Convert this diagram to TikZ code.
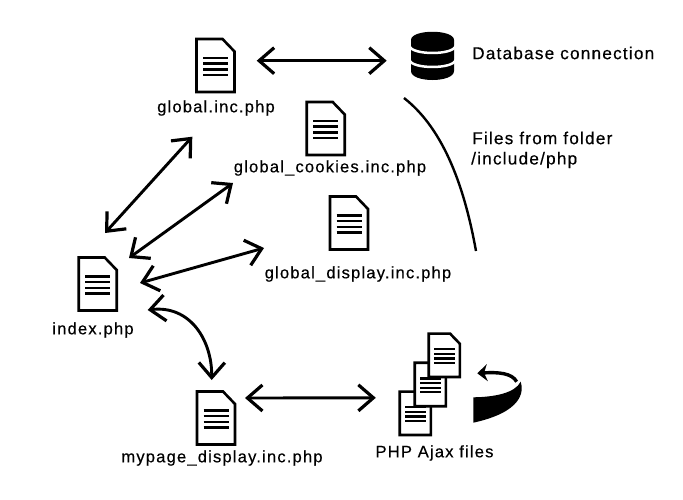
\documentclass[tikz,border=0pt]{standalone}
\usepackage{fontspec}
\setmainfont{Liberation Sans}[LetterSpace=7,FakeBold=0.4]
\usetikzlibrary{arrows.meta}

\begin{document}
\begin{tikzpicture}[x=1pt,y=-1pt,
        docicon/.style={minimum width=40pt,minimum height=55pt,inner sep=0pt,outer sep=0pt},
        ajaxicon/.style={minimum width=33pt,minimum height=45pt,inner sep=0pt,outer sep=0pt},
        dbicon/.style={minimum width=43pt,minimum height=48pt,inner sep=0pt,outer sep=0pt},
        label/.style={font=\fontsize{16.6}{20}\selectfont,inner sep=0pt},
        biglabel/.style={font=\fontsize{17.2}{20}\selectfont,inner sep=0pt,anchor=west},
        link/.style={line width=2.9pt,{Straight Barb[length=15pt,width=26pt,line width=3.2pt]}-{Straight Barb[length=15pt,width=26pt,line width=3.2pt]}}]
    \useasboundingbox (0,0) rectangle (683,499);

    \node[docicon] (global) at (215.5,65.5) {};
    \node[docicon] (cookies) at (325.7,128.5) {};
    \node[docicon] (display) at (349,223) {};
    \node[docicon] (index) at (97.7,284) {};
    \node[docicon] (mypage) at (216,418) {};
    \node[ajaxicon] (ajaxa) at (415.3,413.3) {};
    \node[ajaxicon] (ajaxb) at (430.3,384.5) {};
    \node[ajaxicon] (ajaxc) at (444.3,355.3) {};
    \node[dbicon] (db) at (432.5,56) {};

    \foreach \n/\s in {global/1,cookies/1,display/1,index/1,mypage/1,ajaxa/0.82,ajaxb/0.82,ajaxc/0.82}{
        \begin{scope}[shift={(\n.center)},scale=\s]
            \draw[line width=2.6pt,fill=white] (-19,-26.5) -- (7,-26.5) -- (19,-14) -- (19,26.5) -- (-19,26.5) -- cycle;
            \foreach \y in {-7.5,-2,4,9.5}
                \draw[line width=2.3pt] (-12.5,\y) -- (12.5,\y);
        \end{scope}
    }

    \begin{scope}[shift={(db.center)}]
        \fill (-21.5,-16) .. controls (-21.5,-27) and (21.5,-27) .. (21.5,-16) -- (21.5,15)
            .. controls (21.5,27) and (-21.5,27) .. (-21.5,15) -- cycle;
        \draw[white,line width=2.5pt] (-23,-10) .. controls (-21,-0.7) and (21,-0.7) .. (23,-10);
        \draw[white,line width=2.5pt] (-23,4) .. controls (-21,13.3) and (21,13.3) .. (23,4);
    \end{scope}

    \node[label] (globaltext) at (216,108) {global.inc.php};
    \node[label] (cookiestext) at (330,168) {global\_cookies.inc.php};
    \node[label] (displaytext) at (358,274) {global\_display.inc.php};
    \node[label] (indextext) at (93,330) {index.php};
    \node[label] (mypagetext) at (222,458) {mypage\_display.inc.php};
    \node[label] (ajaxtext) at (434.5,453) {PHP Ajax files};
    \node[biglabel] (dbtext) at (472,53) {Database connection};
    \node[biglabel] (foldertext) at (472,138) {Files from folder};
    \node[biglabel] (pathtext) at (471,160) {/include/php};

    \draw[link] ([xshift=21.2pt,yshift=4.8pt]global.east) -- ([xshift=-24.3pt,yshift=-4.7pt]db.west);
    \draw[link] ([xshift=7.3pt,yshift=23.5pt]index.north) -- ([xshift=-23.2pt,yshift=-43.7pt]global.south);
    \draw[link] ([xshift=11.3pt,yshift=-1.5pt]index.north east) -- ([xshift=-92.7pt,yshift=-27pt]cookies.south);
    \draw[link] ([xshift=22.3pt,yshift=1pt]index.east) -- ([xshift=-65pt,yshift=-25pt]display.west);
    \draw[link] ([xshift=30pt,yshift=1.5pt]index.south east) .. controls (190,305) and (212,340) .. ([xshift=-4.3pt,yshift=10.5pt]mypage.north);
    \draw[link] ([xshift=9pt,yshift=20pt]mypage.east) -- ([xshift=-23pt,yshift=15.5pt]ajaxa.west);

    % bracket beside the include files
    \coordinate (foldertop) at (404,98);
    \coordinate (folderbot) at (476,251);
    \draw[line width=2.4pt] (foldertop) .. controls (445,130) and (465,190) .. (folderbot);

    % reload sign
    \fill (473.3,397.3) .. controls (495,397) and (515,393) .. (520.7,381.7)
        .. controls (524,392) and (522,412) .. (473.3,422.7) -- cycle;
    \draw[line width=3.4pt,-{Stealth[length=10pt,width=17pt]}] (516.7,381.7) .. controls (512,373) and (498,372) .. (477.3,373.3);
\end{tikzpicture}
\end{document}
